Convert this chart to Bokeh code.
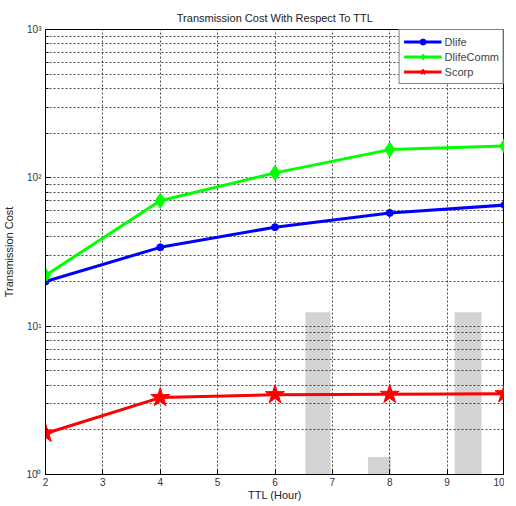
from bokeh.plotting import figure
from bokeh.models import Range1d, FixedTicker, Legend, LegendItem, BoxAnnotation
from bokeh.embed import file_html
from bokeh.resources import INLINE

ttl = [2, 4, 6, 8, 10]
dlife = [20.0, 34.0, 46.5, 58.0, 65.5]
dlife_comm = [22.0, 70.0, 108.0, 155.0, 164.0]
scorp = [1.89, 3.3, 3.45, 3.47, 3.5]

x_ticks = [2, 3, 4, 5, 6, 7, 8, 9, 10]
y_ticks = [1, 10, 100, 1000]
y_tick_labels = {1: "10⁰", 10: "10¹", 100: "10²", 1000: "10³"}

# decorative "IJ" watermark blocks (x in TTL units, y in cost units)
wm_left = [6.53, 9.13, 7.62]
wm_right = [6.97, 9.60, 8.02]
wm_top = [12.4, 12.4, 1.31]
wm_bottom = [0.55, 0.55, 0.55]

FONT = "Liberation Sans"

p = figure(width=504, height=503, y_axis_type="log",
           x_range=Range1d(2, 10), y_range=Range1d(1, 1000),
           output_backend="svg", toolbar_location=None,
           title="Transmission Cost With Respect To TTL",
           min_border_left=45, min_border_right=0, min_border_top=29, min_border_bottom=0)

p.title.align = "center"
p.title.text_font = FONT
p.title.text_font_size = "11px"
p.title.text_font_style = "normal"
p.title.text_color = "#222222"
p.title.offset = 0
p.title.standoff = 12

p.background_fill_color = "white"
p.border_fill_color = "white"
p.outline_line_color = "black"
p.outline_line_width = 1

# watermark
for l, r, t, b in zip(wm_left, wm_right, wm_top, wm_bottom):
    p.add_layout(BoxAnnotation(left=l, right=r, top=t, bottom=b,
                               fill_color="#d3d3d3", fill_alpha=1.0,
                               line_color=None, level="image"))

# axes
p.xaxis.ticker = FixedTicker(ticks=x_ticks)
p.yaxis.ticker = FixedTicker(ticks=y_ticks,
                             minor_ticks=[m * d for d in [1, 10, 100] for m in range(2, 10)])
p.yaxis.major_label_overrides = y_tick_labels
for ax in (p.xaxis, p.yaxis):
    ax.major_tick_in = 5
    ax.major_tick_out = 0
    ax.minor_tick_in = 3
    ax.minor_tick_out = 0
    ax.major_label_text_font = FONT
    ax.major_label_text_font_size = "10px"
    ax.major_label_text_color = "#333344"
    ax.axis_label_text_font = FONT
    ax.axis_label_text_font_size = "11px"
    ax.axis_label_text_font_style = "normal"
    ax.axis_label_text_color = "#222222"
    ax.axis_line_color = "black"
    ax.major_tick_line_color = "black"
    ax.minor_tick_line_color = "black"
p.xaxis.minor_tick_line_color = None
p.xaxis.major_label_standoff = 3
p.xaxis.axis_label_standoff = 0
p.yaxis.major_label_standoff = 4
p.yaxis.axis_label_standoff = 8
p.xaxis.axis_label = "TTL (Hour)"
p.yaxis.axis_label = "Transmission Cost"

# grid
for g in (p.xgrid, p.ygrid):
    g.grid_line_color = "black"
    g.grid_line_alpha = 0.7
    g.grid_line_dash = "2 2"
    g.grid_line_width = 1
p.ygrid.minor_grid_line_color = "black"
p.ygrid.minor_grid_line_alpha = 0.7
p.ygrid.minor_grid_line_dash = "2 2"

# series
l1 = p.line(ttl, dlife, line_color="#0000ff", line_width=3)
m1 = p.scatter(ttl, dlife, marker="circle", size=7, fill_color="#0000ff", line_color="#0000ff")
l2 = p.line(ttl, dlife_comm, line_color="#00ff00", line_width=3)
m2 = p.scatter(ttl, dlife_comm, marker="diamond", size=15, fill_color="#00ff00", line_color="#00ff00")
l3 = p.line(ttl, scorp, line_color="#ff0000", line_width=3)
m3 = p.scatter(ttl, scorp, marker="star", size=20, fill_color="#ff0000", line_color="#ff0000")

legend = Legend(items=[LegendItem(label="Dlife", renderers=[l1, m1]),
                       LegendItem(label="DlifeComm", renderers=[l2, m2]),
                       LegendItem(label="Scorp", renderers=[l3, m3])],
                location="top_right", margin=0, padding=4, spacing=0,
                label_text_font=FONT, label_text_font_size="11px",
                label_standoff=3, glyph_width=38, glyph_height=15,
                label_height=15,
                border_line_color="black", border_line_width=1,
                background_fill_alpha=1.0)
p.add_layout(legend)

open("out.html", "w").write(file_html(p, INLINE))
